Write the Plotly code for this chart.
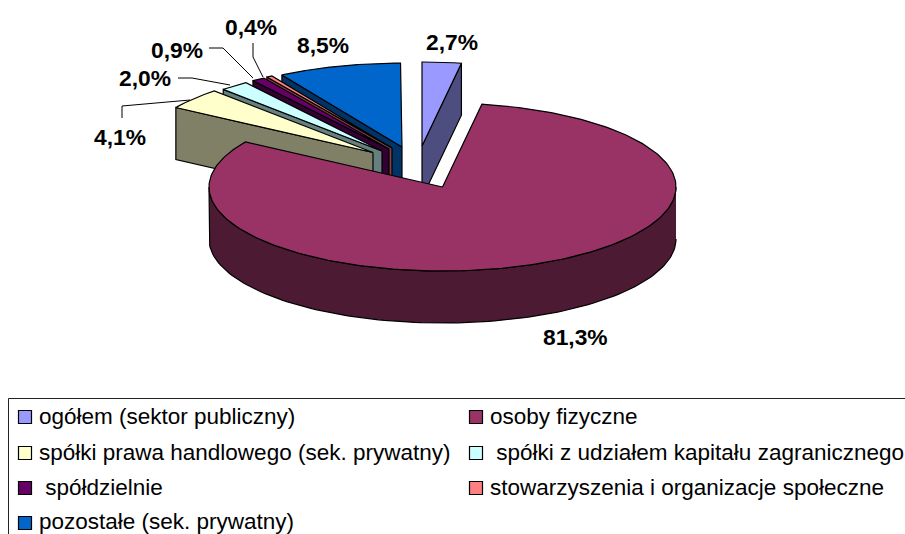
import numpy as np
import plotly.graph_objects as go

categories = ["ogółem (sektor publiczny)", "osoby fizyczne", "spółki prawa handlowego (sek. prywatny)",
              "\u00a0spółki z udziałem kapitału zagranicznego", "\u00a0spółdzielnie",
              "stowarzyszenia i organizacje społeczne", "pozostałe (sek. prywatny)"]
values = [2.7, 81.3, 4.1, 2.0, 0.9, 0.4, 8.5]

top_colors = ["#9999FF", "#993366", "#FFFFCC", "#CCFFFF", "#660066", "#FF8080", "#0066CC"]
wall_colors = ["#4D4D80", "#4D1A33", "#808066", "#668080", "#330033", "#804040", "#003366"]

# pie projection (pixels)
apex_x = [422, 442.5, 373, 382, 389, 392, 402]
apex_y = [146, 187, 152.5, 151, 149, 148, 147]
RX, RY, DEPTH = 233.5, 84, 52
draw_order = [0, 6, 5, 4, 3, 2, 1]

label_x = [452, 575, 120, 145, 177, 251, 323]
label_y = [42, 337, 137, 78, 50, 27, 45]

leaders = [
    ([122, 122, 190], [118, 106, 100]),
    ([178, 192, 230], [78, 78, 85]),
    ([209, 223, 253], [48, 48, 78]),
    ([253, 253, 263], [43, 57, 77]),
]

legend_swatch_x = [25, 476, 25, 476, 25, 476, 25]
legend_text_x = [39, 490, 39, 490, 39, 490, 39]
legend_y = [417, 417, 453, 453, 488, 488, 523]
legend_text_y = [416, 416, 452, 452, 487, 487, 521]

LINE = dict(color="black", width=1.2)
fig = go.Figure()


def poly(xs, ys, color):
    fig.add_trace(go.Scatter(x=xs, y=ys, mode="lines", fill="toself", fillcolor=color,
                             line=LINE, hoverinfo="skip", showlegend=False))


cum = np.cumsum([0] + values)
for i in draw_order:
    t0, t1 = 2 * np.pi * cum[i] / 100, 2 * np.pi * cum[i + 1] / 100
    ax, ay = apex_x[i], apex_y[i]
    px = lambda t: ax + RX * np.sin(t)
    py = lambda t: ay - RY * np.cos(t)
    # cut walls facing the viewer
    if np.pi < t0 < 2 * np.pi:
        poly([ax, px(t0), px(t0), ax, ax], [ay, py(t0), py(t0) + DEPTH, ay + DEPTH, ay], wall_colors[i])
    if 0 < t1 < np.pi:
        poly([ax, px(t1), px(t1), ax, ax], [ay, py(t1), py(t1) + DEPTH, ay + DEPTH, ay], wall_colors[i])
    # outer wall
    a, b = max(t0, np.pi / 2), min(t1, 3 * np.pi / 2)
    if a < b:
        t = np.linspace(a, b, 120)
        poly(np.r_[px(t), px(t[::-1])], np.r_[py(t), py(t[::-1]) + DEPTH], wall_colors[i])
    # top face
    t = np.linspace(t0, t1, 240)
    poly(np.r_[ax, px(t), ax], np.r_[ay, py(t), ay], top_colors[i])

for lx, ly in leaders:
    fig.add_trace(go.Scatter(x=lx, y=ly, mode="lines", line=dict(color="black", width=1),
                             hoverinfo="skip", showlegend=False))

fig.add_trace(go.Scatter(x=legend_swatch_x, y=legend_y, mode="markers",
                         marker=dict(symbol="square", size=13, color=top_colors,
                                     line=dict(color="black", width=1.2)),
                         hoverinfo="skip", showlegend=False))

for v, x, y in zip(values, label_x, label_y):
    fig.add_annotation(x=x, y=y, text=f"{v:.1f}".replace(".", ",") + "%", showarrow=False,
                       font=dict(family="Liberation Sans", size=22.8, color="black", weight="bold"),
                       xanchor="center", yanchor="middle")

for c, x, y in zip(categories, legend_text_x, legend_text_y):
    fig.add_annotation(x=x, y=y, text=c, showarrow=False,
                       font=dict(family="Liberation Sans", size=22.5, color="black"),
                       xanchor="left", yanchor="middle", xshift=-2)

fig.add_shape(type="rect", x0=8.5, y0=398.5, x1=950, y1=600, line=dict(color="#222222", width=1))

fig.update_layout(width=905, height=534, margin=dict(l=0, r=0, t=0, b=0),
                  paper_bgcolor="white", plot_bgcolor="white", showlegend=False,
                  xaxis=dict(range=[0, 905], visible=False, fixedrange=True),
                  yaxis=dict(range=[534, 0], visible=False, fixedrange=True))
fig.write_html("out.html", post_script="document.body.style.margin='0';document.body.style.overflow='hidden';",
               config={"displayModeBar": False})
